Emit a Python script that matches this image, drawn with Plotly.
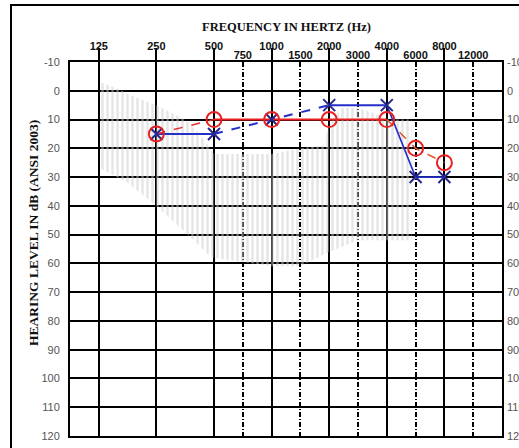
import plotly.graph_objects as go

# Audiogram frequency layout: octaves one unit apart, inter-octave frequencies at the half steps
OCTAVE_POS = {125: 0, 250: 1, 500: 2, 750: 2.5, 1000: 3, 1500: 3.5, 2000: 4,
              3000: 4.5, 4000: 5, 6000: 5.5, 8000: 6, 12000: 6.5}

octave_labels = [125, 250, 500, 1000, 2000, 4000, 8000]
mid_labels = [750, 1500, 3000, 6000, 12000]
db_ticks = list(range(-10, 130, 10))

# Test frequencies and thresholds (dB HL)
freqs = [250, 500, 1000, 2000, 4000, 6000, 8000]
right_ear = [15, 10, 10, 10, 10, 20, 25]   # red circles
left_ear = [15, 15, 10, 5, 5, 30, 30]      # blue crosses

# Speech-sound region outline (octave position, dB HL)
banana_oct = [0.03, 0.3, 0.6, 1.0, 1.3, 1.5, 1.7, 1.9, 2.0, 3.0, 3.5, 3.9, 4.0, 4.2,
              4.5, 4.8, 5.0, 5.43, 5.43, 5.0, 4.5, 4.0, 3.5, 3.0, 2.0, 1.9, 1.6,
              1.0, 0.5, 0.03]
banana_db = [-3, -1, 2, 5, 8, 10, 14, 19, 22, 22, 20, 19, 12, 6,
             6, 8, 10, 10, 52, 52, 52, 56, 61, 61, 58, 57, 51,
             40, 32, 27]


def pos(f):
    return OCTAVE_POS[f]


fig = go.Figure()

fig.add_trace(go.Scatter(
    x=banana_oct, y=banana_db, mode="lines", fill="toself",
    fillcolor="rgba(0,0,0,0)",
    fillpattern=dict(shape="|", fgcolor="#cdcdcd", bgcolor="rgba(0,0,0,0)",
                     size=5, solidity=0.5),
    line=dict(width=0), hoverinfo="skip", showlegend=False))


def segment(values, i0, i1, color, width, dash):
    fig.add_trace(go.Scatter(
        x=[pos(f) for f in freqs[i0:i1 + 1]], y=values[i0:i1 + 1],
        mode="lines", line=dict(color=color, width=width, dash=dash),
        hoverinfo="skip", showlegend=False))


# Left ear connecting lines
segment(left_ear, 0, 1, "#2430c8", 2, "solid")
segment(left_ear, 1, 3, "#2430c8", 2, "dash")
segment(left_ear, 3, 4, "#2430c8", 2, "solid")
segment(left_ear, 4, 6, "#2430c8", 1.6, "solid")

# Right ear connecting lines
segment(right_ear, 0, 1, "#e03030", 1.5, "dash")
segment(right_ear, 1, 4, "#e82020", 2, "solid")
segment(right_ear, 4, 6, "#e05a2a", 1.5, "dash")

fig.add_trace(go.Scatter(
    x=[pos(f) for f in freqs], y=left_ear, mode="markers",
    marker=dict(symbol="x-thin-open", size=12, color="#26288e",
                line=dict(width=2, color="#26288e")),
    showlegend=False))
fig.add_trace(go.Scatter(
    x=[pos(f) for f in freqs], y=right_ear, mode="markers",
    marker=dict(symbol="circle-open", size=15, color="#e82020",
                line=dict(width=2, color="#e82020")),
    showlegend=False))

# Placeholder on the secondary axes so both extra label rows render
fig.add_trace(go.Scatter(x=[pos(1000)], y=[None], xaxis="x2", yaxis="y2",
                         mode="markers", hoverinfo="skip", showlegend=False))

x_range = [-0.5, 7]
y_range = [120, -10]
tick_font = dict(family="Liberation Sans", size=11, color="#111", weight="bold")
db_font = dict(family="Liberation Sans", size=11, color="#555")

fig.update_layout(
    width=519, height=448,
    margin=dict(l=70, r=17, t=62, b=12, autoexpand=False),
    paper_bgcolor="white", plot_bgcolor="white",
    xaxis=dict(
        range=x_range, side="top", automargin=False,
        tickvals=[pos(f) for f in octave_labels],
        ticktext=[str(f) for f in octave_labels],
        ticks="outside", ticklen=12, tickwidth=2, tickcolor="black",
        ticklabelstandoff=-6,
        tickfont=tick_font,
        showgrid=True, gridcolor="black", gridwidth=2,
        minor=dict(tickvals=[pos(f) for f in mid_labels], showgrid=True,
                   gridcolor="black", gridwidth=1.5,
                   griddash="5px,2px,1px,2px", ticks=""),
        showline=True, linecolor="black", linewidth=2, mirror=True,
        zeroline=False, fixedrange=True),
    xaxis2=dict(
        range=x_range, side="top", overlaying="x", anchor="y", automargin=False,
        tickvals=[pos(f) for f in mid_labels],
        ticktext=[str(f) for f in mid_labels],
        ticks="", ticklabelstandoff=0, tickfont=tick_font,
        showgrid=False, showline=False, zeroline=False),
    yaxis=dict(
        range=y_range, tickvals=db_ticks, ticktext=[str(v) for v in db_ticks],
        ticks="", ticklabelstandoff=6, tickfont=db_font, automargin=False,
        showgrid=True, gridcolor="black", gridwidth=2,
        showline=True, linecolor="black", linewidth=2, mirror=True,
        zeroline=False),
    yaxis2=dict(
        range=y_range, overlaying="y", side="right", anchor="x", automargin=False,
        tickvals=db_ticks, ticktext=[str(v) for v in db_ticks],
        ticks="", ticklabelstandoff=4, tickfont=db_font,
        showgrid=False, showline=False, zeroline=False),
    annotations=[
        dict(text="FREQUENCY IN HERTZ (Hz)", xref="paper", yref="paper",
             x=0.5, y=(436 - 27) / 374, xanchor="center", yanchor="middle",
             showarrow=False,
             font=dict(family="Liberation Serif", size=12.5, color="#111",
                       weight="bold")),
        dict(text="HEARING LEVEL IN dB (ANSI 2003)", xref="paper", yref="paper",
             x=(33 - 70) / 432, y=(436 - 233) / 374, xanchor="center",
             yanchor="middle", textangle=-90, showarrow=False,
             font=dict(family="Liberation Serif", size=13.5, color="#111",
                       weight="bold")),
    ],
    shapes=[
        dict(type="rect", xref="paper", yref="paper",
             x0=(11 - 70) / 432, x1=1.2, y0=-0.2, y1=(436 - 5) / 374,
             line=dict(color="black", width=2), fillcolor="rgba(0,0,0,0)",
             layer="below"),
    ],
)

fig.write_html("out.html")
